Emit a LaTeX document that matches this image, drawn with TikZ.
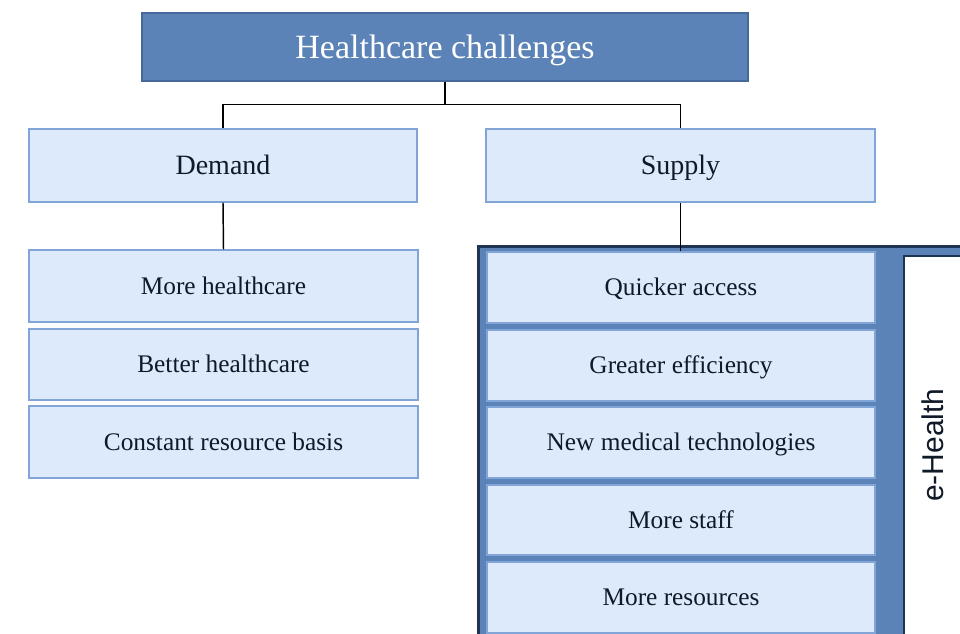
\documentclass[tikz,border=0pt]{standalone}
\usepackage{fontspec}
\setmainfont{Liberation Serif}
\newfontfamily\sansf{Liberation Sans}
\definecolor{midblue}{RGB}{91,131,183}
\definecolor{midborder}{RGB}{70,105,155}
\definecolor{lightfill}{RGB}{221,234,251}
\definecolor{lightborder}{RGB}{130,165,215}
\definecolor{darkframe}{RGB}{30,52,85}
\definecolor{txt}{RGB}{15,25,40}
\begin{document}
\begin{tikzpicture}[x=0.75pt,y=-0.75pt,
  topbox/.style={draw=midborder,line width=1pt,fill=midblue,text=white,inner sep=0pt,
    minimum width=454.5pt,minimum height=51pt,font=\fontsize{25.5}{30}\selectfont,
    text height=17pt,text depth=0pt},
  headbox/.style={draw=lightborder,line width=1pt,fill=lightfill,text=txt,inner sep=0pt,
    minimum height=54.75pt,font=\fontsize{21}{25}\selectfont,
    text height=14pt,text depth=0pt},
  itembox/.style={draw=lightborder,line width=1pt,fill=lightfill,text=txt,inner sep=0pt,
    minimum width=291pt,font=\fontsize{19}{23}\selectfont,
    text height=12.4pt,text depth=0pt},
  conn/.style={draw=black,line width=1.1pt}]
\useasboundingbox (0,0) rectangle (960,634);
\clip (0,0) rectangle (960,634);
\fill[white] (0,0) rectangle (960,634);
% top
\node[topbox] (top) at (445,47) {Healthcare challenges};
\node[headbox,minimum width=291pt] (demand) at (223,165.5) {Demand};
\node[headbox,minimum width=291.75pt] (supply) at (680.5,165.5) {Supply};
\draw[conn] (top.south) -- ++(0,23) coordinate (mid) -| (demand.north);
\draw[conn] (mid) -| (supply.north);
% frame
\node[draw=darkframe,line width=2pt,fill=midblue,inner sep=0pt,anchor=north west,
  minimum width=400pt,minimum height=320pt] (frame) at (477,245) {};
\node[draw=darkframe,line width=1.5pt,fill=white,inner sep=0pt,anchor=north west,
  minimum width=80pt,minimum height=300pt] (ehbox) at (903,255) {};
\node[rotate=90,text=txt,font=\sansf\fontsize{22.5}{26}\selectfont] (eh) at (933,445) {e-Health};
% left items
\node[itembox,minimum height=54pt,minimum width=291.75pt] (m1) at (223.5,286) {More healthcare};
\node[itembox,minimum height=53.25pt,minimum width=291.75pt] (m2) at (223.5,364.5) {Better healthcare};
\node[itembox,minimum height=54pt,minimum width=291.75pt] (m3) at (223.5,442) {Constant resource basis};
\draw[conn] (demand.south) -- (m1.north);
% right items
\draw[conn] (supply.south) -- (supply.south |- frame.north) -- ++(0,7);
\node[itembox,minimum height=53.25pt] (s1) at (681,287.5) {Quicker access};
\node[itembox,minimum height=53.25pt] (s2) at (681,365.5) {Greater efficiency};
\node[itembox,minimum height=53.25pt] (s3) at (681,442.5) {New medical technologies};
\node[itembox,minimum height=52.5pt] (s4) at (681,520) {More staff};
\node[itembox,minimum height=53.25pt] (s5) at (681,597.5) {More resources};
\end{tikzpicture}
\end{document}
